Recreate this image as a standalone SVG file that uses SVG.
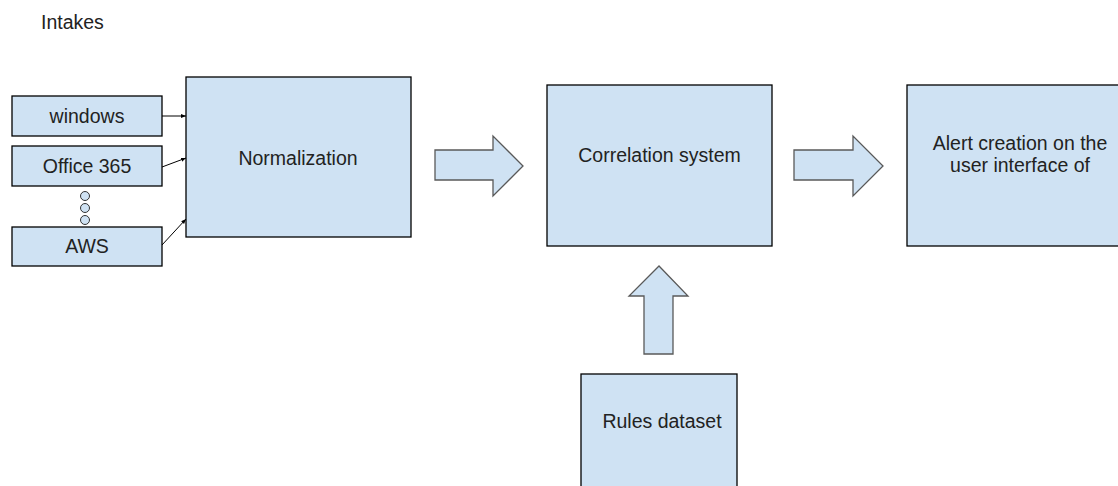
<svg xmlns="http://www.w3.org/2000/svg" width="1118" height="486" viewBox="0 0 1118 486">
<defs>
<style>
.box{fill:#cfe2f3;stroke:#000;stroke-width:1.3}
.fat{fill:#cfe2f3;stroke:#595959;stroke-width:1.3;stroke-linejoin:miter}
.t{font-family:"Liberation Sans",Arial,sans-serif;font-size:19.5px;fill:#222;text-anchor:middle}
.c{fill:none;stroke:#000;stroke-width:1}
</style>
<marker id="ah" viewBox="0 0 10 10" refX="10" refY="5" markerWidth="5" markerHeight="5" orient="auto">
<path d="M0,1 L10,5 L0,9 z" fill="#000"/>
</marker>
</defs>
<rect width="1118" height="486" fill="#fff"/>
<text x="41" y="29" style="font-family:'Liberation Sans',Arial,sans-serif;font-size:19.5px;fill:#222">Intakes</text>
<g id="windows"><rect class="box" x="12" y="96" width="150" height="40"/><text class="t" x="87" y="123">windows</text></g>
<g id="office365"><rect class="box" x="12" y="146" width="150" height="40"/><text class="t" x="87" y="173">Office 365</text></g>
<g id="dots"><circle cx="85" cy="196" r="4.5" fill="#cfe2f3" stroke="#333"/><circle cx="85" cy="208" r="4.5" fill="#cfe2f3" stroke="#333"/><circle cx="85" cy="220" r="4.5" fill="#cfe2f3" stroke="#333"/></g>
<g id="aws"><rect class="box" x="12" y="227" width="150" height="39"/><text class="t" x="87" y="253">AWS</text></g>
<g id="normalization"><rect class="box" x="186" y="77" width="225" height="160"/><text class="t" x="298" y="165">Normalization</text></g>
<g id="correlation"><rect class="box" x="547" y="85" width="225" height="161"/><text class="t" x="659.5" y="162">Correlation system</text></g>
<g id="alert"><rect class="box" x="907" y="85" width="225" height="161"/><text class="t" x="1020" y="150">Alert creation on the</text><text class="t" x="1020" y="172">user interface of</text></g>
<g id="rules"><rect class="box" x="581" y="374" width="156" height="130"/><text class="t" x="662" y="428">Rules dataset</text></g>
<g id="connectors">
<line class="c" x1="162" y1="116" x2="186" y2="116" marker-end="url(#ah)"/>
<line class="c" x1="162" y1="167" x2="186" y2="158" marker-end="url(#ah)"/>
<line class="c" x1="162" y1="245" x2="186" y2="219" marker-end="url(#ah)"/>
<path class="fat" d="M435,150 H493 V136 L523,166 L493,196 V180 H435 Z"/>
<path class="fat" d="M794,150 H853 V136 L883,166 L853,196 V180 H794 Z"/>
<path class="fat" d="M644,354 V296 H629 L659,266 L688,296 H673 V354 Z"/>
</g>
</svg>
